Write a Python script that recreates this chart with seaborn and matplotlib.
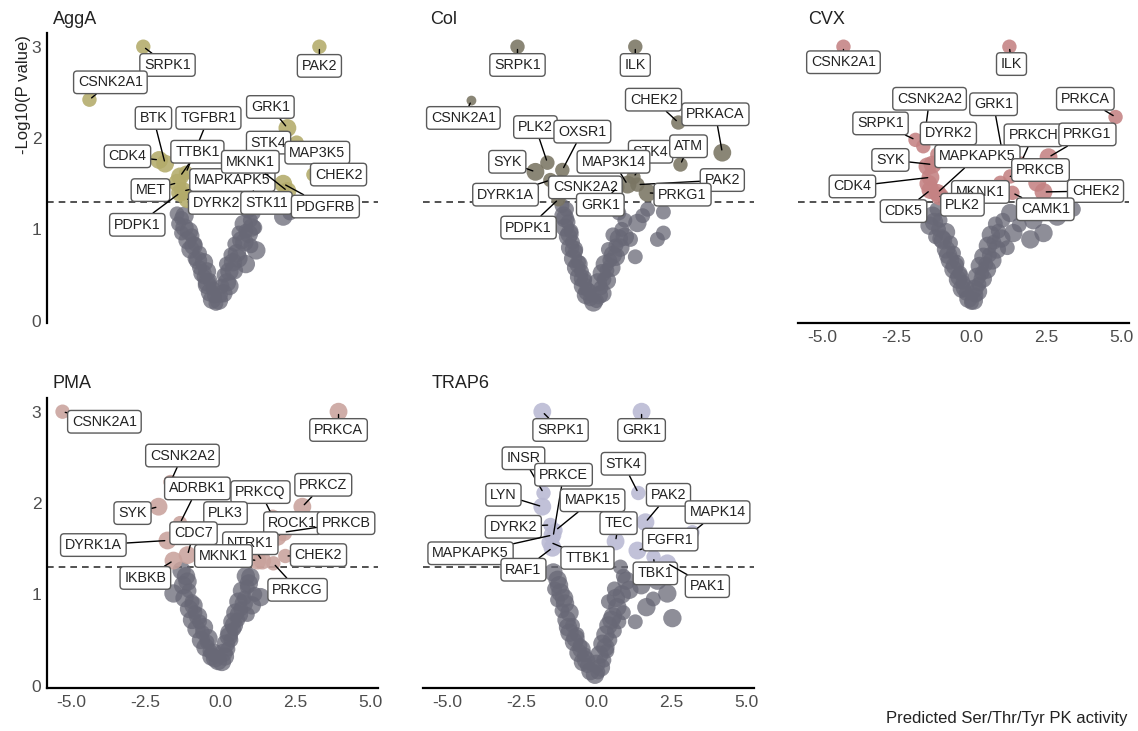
import numpy as np
import pandas as pd
import matplotlib
matplotlib.use("Agg")
import matplotlib.pyplot as plt
import seaborn as sns

sns.set_theme(style="white")
plt.rcParams["font.family"] = ["Liberation Sans", "DejaVu Sans"]

# ---------------- data ----------------
conditions = ["AggA", "Col", "CVX", "PMA", "TRAP6"]
sig_colors = {"AggA": "#b3ab6a", "Col": "#7a7563", "CVX": "#c48283",
              "PMA": "#c9a29c", "TRAP6": "#b9b9d3"}
ns_color = "#686876"
p_threshold = 0.05

# AggA
agga_names = ["SRPK1", "CSNK2A1", "PAK2", "GRK1", "STK4", "MAP3K5", "CHEK2", "BTK", "CDK4",
              "TGFBR1", "TTBK1", "MET", "MAPKAPK5", "PDPK1", "DYRK2", "MKNK1", "STK11", "PDGFRB"]
agga_x = [-2.58, -4.38, 3.31, 2.24, 2.55, 2.75, 3.11, -1.85, -2.05,
          -1.15, -1.35, -1.44, -1.25, -1.35, -1.10, 2.24, 1.10, 2.10]
agga_y = [3.00, 2.42, 3.00, 2.11, 1.95, 1.88, 1.60, 1.72, 1.76,
          1.62, 1.58, 1.51, 1.42, 1.40, 1.33, 1.42, 1.42, 1.50]
agga_size = [2, 2, 2, 3, 2, 2, 2, 3, 3, 2, 3, 3, 3, 3, 3, 3, 2, 3]
agga_label_x = [-1.77, -3.68, 3.31, 1.67, 1.61, 3.24, 3.95, -2.24, -3.11,
                -0.40, -0.77, -2.34, 0.40, -2.78, -0.13, 1.00, 1.54, 3.51]
agga_label_y = [2.80, 2.61, 2.79, 2.34, 1.95, 1.84, 1.60, 2.22, 1.80,
                2.22, 1.85, 1.43, 1.54, 1.05, 1.29, 1.74, 1.29, 1.25]
agga_ns_x = [-1.45, -1.30, -1.40, -1.20, -1.30, -0.95, -1.10, -0.85, -1.00, -0.70, -0.85, -0.55,
             -0.70, -0.45, -0.55, -0.35, -0.45, -0.25, -0.35, -0.20, -0.28, -0.15, -0.05, 0.00,
             0.10, 0.05, 0.22, 0.12, 0.30, 0.20, 0.42, 0.35, 0.55, 1.20, 0.48, 0.70, 0.62, 0.85,
             0.78, 1.00, 1.10, 0.92, 0.85, 1.02, 1.15, 2.10, 2.32,
             -1.20, -1.05, -0.90, -0.75, -0.60, -0.45, 0.30, 0.45, 0.60, 0.80, 0.95, 1.05]
agga_ns_y = [1.17, 1.12, 1.06, 1.02, 0.96, 0.93, 0.88, 0.84, 0.78, 0.74, 0.68, 0.64,
             0.58, 0.54, 0.48, 0.44, 0.39, 0.35, 0.31, 0.27, 0.23, 0.19, 0.22, 0.28,
             0.30, 0.38, 0.42, 0.50, 0.54, 0.62, 0.64, 0.72, 0.74, 0.77, 0.84, 0.88, 0.96, 0.98,
             1.06, 1.10, 1.18, 1.20, 0.62, 0.82, 1.02, 1.14, 1.18,
             1.15, 0.98, 0.82, 0.66, 0.52, 0.42, 0.38, 0.55, 0.68, 0.86, 0.95, 1.02]
agga_ns_size = [2, 2, 2, 3, 2, 2, 3, 2, 3, 2, 2, 3, 2, 3, 2, 2, 3, 2, 3, 2, 3, 2, 3, 2,
                3, 2, 3, 2, 3, 2, 3, 2, 3, 3, 2, 3, 2, 2, 3, 2, 2, 2, 3, 2, 2, 3, 2,
                3, 3, 3, 3, 3, 3, 3, 3, 3, 3, 3, 3]

# Col
col_names = ["SRPK1", "ILK", "CSNK2A1", "CHEK2", "PRKACA", "PLK2", "OXSR1", "SYK", "STK4",
             "ATM", "MAP3K14", "PAK2", "PRKG1", "DYRK1A", "CSNK2A2", "GRK1", "PDPK1"]
col_x = [-2.64, 1.30, -4.18, 2.74, 4.21, -1.64, -1.14, -2.04, 1.24,
         2.81, 1.04, 1.37, 1.71, -1.54, -1.20, 0.70, -1.27]
col_y = [3.00, 3.00, 2.41, 2.17, 1.84, 1.73, 1.65, 1.63, 1.57,
         1.71, 1.49, 1.49, 1.40, 1.54, 1.52, 1.46, 1.33]
col_size = [2, 2, 1, 2, 3, 2, 2, 3, 2, 2, 3, 2, 3, 2, 2, 2, 2]
col_label_x = [-2.64, 1.30, -4.45, 1.91, 3.98, -2.04, -0.47, -2.98, 1.81,
               3.08, 0.57, 4.21, 2.88, -3.04, -0.37, 0.13, -2.27]
col_label_y = [2.80, 2.80, 2.22, 2.42, 2.26, 2.12, 2.07, 1.74, 1.85,
               1.91, 1.74, 1.54, 1.38, 1.38, 1.46, 1.27, 1.02]
col_ns_x = [-1.15, -1.00, -1.10, -0.95, -1.05, -0.85, -0.95, -0.80, -0.88, -0.70, -0.78, -0.60,
            -0.68, -0.50, -0.58, -0.40, -0.45, -0.30, -0.35, -0.20, -0.10, 0.00,
            0.08, 0.15, 0.05, 0.25, 0.18, 0.35, 0.28, 0.45, 0.55, 0.40, 0.65, 0.75, 0.55, 0.85,
            0.95, 0.75, 0.70, 1.37, 1.14, 1.71, 1.55, 2.24, 2.24, 2.04, 1.30,
            -1.05, -0.90, -0.75, -0.60, -0.45, -0.30, 0.20, 0.35, 0.50, 0.65, 0.80, 0.95]
col_ns_y = [1.26, 1.22, 1.15, 1.08, 1.02, 0.98, 0.92, 0.86, 0.80, 0.76, 0.68, 0.64,
            0.58, 0.54, 0.48, 0.44, 0.38, 0.34, 0.28, 0.24, 0.20, 0.22,
            0.28, 0.36, 0.42, 0.45, 0.52, 0.55, 0.62, 0.66, 0.72, 0.78, 0.82, 0.90, 0.94, 1.00,
            1.10, 1.18, 1.28, 1.07, 0.89, 1.22, 1.15, 1.19, 0.96, 0.89, 0.70,
            1.12, 0.95, 0.78, 0.62, 0.46, 0.32, 0.30, 0.44, 0.58, 0.70, 0.80, 0.92]
col_ns_size = [2, 2, 3, 2, 3, 2, 3, 2, 3, 2, 3, 2, 3, 2, 3, 2, 3, 2, 3, 2, 3, 2,
               3, 2, 3, 2, 3, 2, 3, 2, 3, 2, 2, 3, 2, 2, 2, 2, 2, 3, 2, 2, 2, 2, 2, 2, 2,
               3, 3, 3, 3, 3, 3, 3, 3, 3, 3, 3, 3]

# CVX
cvx_names = ["CSNK2A1", "ILK", "PRKCA", "CSNK2A2", "SRPK1", "DYRK2", "GRK1", "PRKCH", "PRKG1",
             "SYK", "MAPKAPK5", "PRKCB", "CDK4", "MKNK1", "CHEK2", "CAMK1", "CDK5", "PLK2",
             "", "", ""]
cvx_x = [-4.28, 1.27, 4.82, -1.61, -1.87, -1.14, 1.07, 1.64, 2.58,
         -1.30, -1.14, 1.30, -1.37, 0.97, 2.41, 1.37, -1.37, -1.05,
         -1.47, -1.44, 2.20]
cvx_y = [3.00, 3.00, 2.23, 1.91, 1.98, 1.82, 1.78, 1.72, 1.79,
         1.71, 1.40, 1.58, 1.57, 1.51, 1.41, 1.40, 1.43, 1.36,
         1.69, 1.50, 1.51]
cvx_size = [2, 2, 2, 2, 2, 2, 2, 2, 3, 3, 3, 2, 3, 2, 3, 2, 3, 3, 3, 3, 3]
cvx_label_x = [-4.28, 1.34, 3.81, -1.40, -3.04, -0.77, 0.74, 2.07, 3.88,
               -2.71, 0.20, 2.31, -3.98, 0.30, 4.15, 2.47, -2.27, -0.30,
               np.nan, np.nan, np.nan]
cvx_label_y = [2.83, 2.81, 2.43, 2.43, 2.16, 2.05, 2.37, 2.03, 2.04,
               1.76, 1.80, 1.65, 1.47, 1.41, 1.42, 1.22, 1.20, 1.27,
               np.nan, np.nan, np.nan]
cvx_ns_x = [-1.15, -1.30, -1.05, -1.40, -1.10, -0.85, -1.20, -0.95, -0.70, -0.85, -0.60,
            -0.72, -0.48, -0.60, -0.38, -0.45, -0.28, -0.32, -0.18, -0.10, 0.00, 0.08,
            0.15, 0.10, 0.25, 0.18, 0.35, 0.28, 0.48, 0.40, 0.60, 0.55, 0.75, 0.65, 0.90,
            0.80, 1.05, 1.30, 1.40, 1.20, 1.97, 2.41, 2.07, 2.87, 3.41, 1.60,
            -1.25, -1.00, -0.78, -0.55, -0.40, -0.22, 0.22, 0.38, 0.52, 0.70, 0.85, 1.00]
cvx_ns_y = [1.22, 1.15, 1.10, 1.04, 1.00, 0.97, 0.92, 0.88, 0.85, 0.78, 0.74,
            0.66, 0.64, 0.56, 0.52, 0.45, 0.42, 0.35, 0.30, 0.24, 0.20, 0.22,
            0.28, 0.35, 0.40, 0.48, 0.52, 0.60, 0.62, 0.70, 0.72, 0.82, 0.86, 0.94, 0.98,
            1.06, 1.10, 1.18, 0.96, 0.80, 0.89, 0.96, 1.10, 1.14, 1.22, 1.05,
            1.08, 0.90, 0.72, 0.60, 0.48, 0.36, 0.32, 0.46, 0.56, 0.66, 0.78, 0.90]
cvx_ns_size = [2, 3, 2, 3, 2, 3, 2, 3, 2, 3, 2, 3, 2, 3, 2, 3, 2, 3, 2, 3, 2, 3,
               2, 3, 2, 3, 2, 3, 2, 3, 2, 3, 2, 3, 2, 2, 2, 3, 3, 2, 3, 3, 3, 3, 2, 2,
               3, 3, 3, 3, 3, 3, 3, 3, 3, 3, 3, 3]

# PMA
pma_names = ["CSNK2A1", "PRKCA", "CSNK2A2", "ADRBK1", "PRKCQ", "PRKCZ", "SYK", "PLK3", "ROCK1",
             "PRKCB", "CDC7", "DYRK1A", "NTRK1", "MKNK1", "CHEK2", "IKBKB", "PRKCG"]
pma_x = [-5.28, 3.95, -1.67, -1.35, 1.75, 2.74, -2.07, -0.70, 1.91,
         2.11, -1.10, -1.77, 1.40, 1.24, 2.17, -1.57, 1.77]
pma_y = [3.00, 3.00, 2.23, 1.78, 1.85, 1.96, 1.96, 1.68, 1.63,
         1.68, 1.43, 1.59, 1.37, 1.37, 1.42, 1.37, 1.34]
pma_size = [2, 3, 2, 2, 2, 3, 3, 2, 3, 3, 3, 3, 3, 3, 2, 3, 2]
pma_label_x = [-3.88, 3.95, -1.27, -0.77, 1.34, 3.44, -2.94, 0.17, 2.41,
               4.20, -0.90, -4.25, 1.00, 0.10, 3.28, -2.51, 2.58]
pma_label_y = [2.89, 2.80, 2.52, 2.16, 2.12, 2.20, 1.89, 1.89, 1.78,
               1.78, 1.67, 1.54, 1.56, 1.42, 1.43, 1.18, 1.05]
pma_ns_x = [-1.30, -1.15, -1.57, -1.25, -1.05, -1.20, -0.95, -1.05, -0.85, -0.95, -0.70,
            -0.80, -0.60, -0.65, -0.45, -0.50, -0.35, -0.30, -0.18, -0.08, 0.05,
            0.15, 0.25, 0.18, 0.35, 0.30, 0.45, 0.40, 0.58, 0.50, 0.68, 0.60, 0.80, 0.72,
            0.90, 1.00, 0.85, 1.34, 1.15, 1.05, 0.90,
            -1.10, -0.90, -0.75, -0.55, -0.40, -0.22, 0.10, 0.28, 0.45, 0.62, 0.78, 0.95]
pma_ns_y = [1.26, 1.20, 1.01, 1.10, 1.04, 0.96, 0.92, 0.84, 0.80, 0.72, 0.70,
            0.62, 0.58, 0.50, 0.48, 0.42, 0.38, 0.32, 0.30, 0.27, 0.26,
            0.32, 0.40, 0.46, 0.50, 0.58, 0.62, 0.70, 0.72, 0.80, 0.84, 0.92, 0.96, 1.04,
            1.08, 1.19, 1.20, 0.97, 1.00, 0.88, 0.78,
            1.14, 0.88, 0.76, 0.64, 0.52, 0.36, 0.36, 0.54, 0.66, 0.78, 0.90, 1.12]
pma_ns_size = [3, 3, 3, 3, 2, 3, 2, 3, 2, 3, 2, 3, 2, 3, 2, 3, 2, 3, 3, 3, 3,
               3, 2, 3, 2, 3, 2, 3, 2, 3, 2, 3, 2, 3, 2, 3, 3, 3, 2, 3, 2,
               3, 3, 3, 3, 3, 3, 3, 3, 3, 3, 3, 3]

# TRAP6
trap6_names = ["SRPK1", "GRK1", "INSR", "PRKCE", "STK4", "LYN", "MAPK15", "PAK2", "MAPK14",
               "TEC", "DYRK2", "FGFR1", "MAPKAPK5", "TTBK1", "RAF1", "TBK1", "PAK1"]
trap6_x = [-1.81, 1.51, -1.77, -1.45, 1.40, -1.81, -1.37, 1.64, 3.21,
           0.64, -1.54, 1.37, -1.47, -1.54, -1.47, 1.91, 2.37]
trap6_y = [3.00, 3.00, 2.11, 1.63, 2.11, 1.96, 1.70, 1.79, 1.68,
           1.58, 1.76, 1.48, 1.65, 1.57, 1.51, 1.41, 1.34]
trap6_size = [3, 3, 2, 2, 2, 3, 2, 3, 2, 3, 2, 3, 3, 3, 3, 2, 3]
trap6_label_x = [-1.20, 1.51, -2.44, -1.10, 0.90, -3.11, -0.13, 2.41, 4.05,
                 0.74, -2.78, 2.47, -4.21, -0.30, -2.44, 1.97, 3.71]
trap6_label_y = [2.80, 2.80, 2.49, 2.31, 2.43, 2.09, 2.03, 2.09, 1.90,
                 1.78, 1.74, 1.60, 1.45, 1.40, 1.27, 1.23, 1.09]
trap6_ns_x = [-1.44, -1.30, -1.40, -1.20, -1.30, -1.05, -1.15, -0.90, -1.00, -0.80, -0.90,
              -0.65, -0.75, -0.55, -0.60, -0.40, -0.45, -0.30, -0.20, -0.05, 0.05,
              0.15, 0.25, 0.10, 0.35, 0.20, 0.45, 0.30, 0.60, 0.40, 0.75, 0.55, 0.90, 0.70,
              0.40, 0.85, 0.60, 0.80, 1.00, 1.67, 2.04, 2.37, 2.54, 1.30, 1.90, 0.90,
              -1.25, -1.08, -0.95, -0.70, -0.50, -0.35, 0.00, 0.30, 0.50, 0.65, 1.10, 1.50]
trap6_ns_y = [1.24, 1.16, 1.06, 1.02, 0.94, 0.90, 0.82, 0.80, 0.72, 0.66, 0.58,
              0.56, 0.48, 0.44, 0.36, 0.34, 0.26, 0.22, 0.16, 0.12, 0.15,
              0.20, 0.28, 0.34, 0.38, 0.46, 0.50, 0.56, 0.60, 0.66, 0.70, 0.76, 0.80, 0.86,
              0.92, 1.00, 1.06, 1.30, 1.15, 0.86, 1.15, 1.01, 0.74, 0.70, 0.95, 1.20,
              1.10, 0.96, 0.64, 0.52, 0.40, 0.28, 0.24, 0.42, 0.72, 0.96, 1.05, 1.10]
trap6_ns_size = [3, 3, 2, 3, 2, 3, 2, 3, 3, 2, 3, 2, 3, 2, 3, 2, 3, 2, 3, 3, 2,
                 3, 2, 3, 2, 3, 2, 3, 2, 3, 2, 3, 2, 3, 2, 3, 2, 2, 3, 3, 3, 3, 3, 2, 2, 2,
                 3, 3, 3, 3, 3, 3, 3, 3, 3, 3, 3, 3]

tick_values = [-5.0, -2.5, 0.0, 2.5, 5.0]
tick_labels = ["-5.0", "-2.5", "0.0", "2.5", "5.0"]
ytick_values = [0, 1, 2, 3]

panel_data = {
    "AggA": (agga_names, agga_x, agga_y, agga_size, agga_label_x, agga_label_y,
             agga_ns_x, agga_ns_y, agga_ns_size),
    "Col": (col_names, col_x, col_y, col_size, col_label_x, col_label_y,
            col_ns_x, col_ns_y, col_ns_size),
    "CVX": (cvx_names, cvx_x, cvx_y, cvx_size, cvx_label_x, cvx_label_y,
            cvx_ns_x, cvx_ns_y, cvx_ns_size),
    "PMA": (pma_names, pma_x, pma_y, pma_size, pma_label_x, pma_label_y,
            pma_ns_x, pma_ns_y, pma_ns_size),
    "TRAP6": (trap6_names, trap6_x, trap6_y, trap6_size, trap6_label_x, trap6_label_y,
              trap6_ns_x, trap6_ns_y, trap6_ns_size),
}

# ---------------- layout ----------------
W, H = 1138, 731
fig = plt.figure(figsize=(W / 100, H / 100), dpi=100)

col_left = [47, 423, 798]
row_top = [33, 398]
row_bottom = [323, 688]
ax_w = 331
grid = {"AggA": (0, 0), "Col": (0, 1), "CVX": (0, 2), "PMA": (1, 0), "TRAP6": (1, 1)}
title_pos = {"AggA": (53, 20), "Col": (430, 20), "CVX": (808, 20),
             "PMA": (53, 384), "TRAP6": (432, 384)}
show_x = {"AggA": False, "Col": False, "CVX": True, "PMA": True, "TRAP6": True}
show_y = {"AggA": True, "Col": False, "CVX": False, "PMA": True, "TRAP6": False}

tick_color = "#4d4d4d"

for cond in conditions:
    names, xs, ys, ss, lxs, lys, nx, ny, nsz = panel_data[cond]
    r, c = grid[cond]
    left = col_left[c] / W
    bottom = 1 - row_bottom[r] / H
    height = (row_bottom[r] - row_top[r]) / H
    ax = fig.add_axes([left, bottom, ax_w / W, height])

    ns_df = pd.DataFrame({"x": nx, "y": ny, "n": nsz})
    sig_df = pd.DataFrame({"kinase": names, "x": xs, "y": ys, "n": ss})

    sns.scatterplot(data=ns_df, x="x", y="y", size="n", sizes=(55, 175), size_norm=(1, 3),
                    color=ns_color, alpha=0.75, edgecolor="none", legend=False, ax=ax, zorder=2)
    sns.scatterplot(data=sig_df, x="x", y="y", size="n", sizes=(50, 165), size_norm=(1, 3),
                    color=sig_colors[cond], alpha=0.88, edgecolor="none", legend=False, ax=ax,
                    zorder=3)

    ax.axhline(-np.log10(p_threshold), ls=(0, (4, 3)), color="#333333", lw=1.2, zorder=1)

    for nm, px, py, lx, ly in zip(names, xs, ys, lxs, lys):
        if not nm or np.isnan(lx):
            continue
        ax.annotate(nm, xy=(px, py), xytext=(lx, ly), textcoords="data",
                    ha="center", va="center", fontsize=10.3, color="#222222",
                    bbox=dict(boxstyle="round,pad=0.3,rounding_size=0.25", fc="white",
                              ec="#5a5a5a", lw=1.0),
                    arrowprops=dict(arrowstyle="-", color="black", lw=1.0,
                                    shrinkA=0, shrinkB=2),
                    zorder=5, annotation_clip=False)

    ax.set_xlim(-5.8, 5.27)
    ax.set_ylim(-0.025, 3.15)
    ax.set_xlabel("")
    ax.set_ylabel("")
    ax.set_xticks(tick_values)
    ax.set_yticks(ytick_values)
    ax.tick_params(length=0, labelsize=12.5, labelcolor=tick_color)
    ax.tick_params(axis="x", pad=5)
    ax.tick_params(axis="y", pad=4)
    if show_x[cond]:
        ax.set_xticklabels(tick_labels)
    else:
        ax.set_xticklabels([])
    if not show_y[cond]:
        ax.set_yticklabels([])
    for side in ["top", "right", "left", "bottom"]:
        ax.spines[side].set_visible(False)
    if show_y[cond]:
        ax.spines["left"].set_visible(True)
        ax.spines["left"].set_color("black")
        ax.spines["left"].set_linewidth(1.6)
    if show_x[cond]:
        ax.spines["bottom"].set_visible(True)
        ax.spines["bottom"].set_color("black")
        ax.spines["bottom"].set_linewidth(1.6)
    ax.grid(False)
    ax.set_facecolor("white")

    tx, ty = title_pos[cond]
    fig.text(tx / W, 1 - ty / H, cond, ha="left", va="center", fontsize=13, color="#222222")

fig.text(24 / W, 1 - 95 / H, "-Log10(P value)", rotation=90, ha="center", va="center",
         fontsize=12, color="#222222")
fig.text(1128 / W, 1 - 719 / H, "Predicted Ser/Thr/Tyr PK activity", ha="right", va="center",
         fontsize=12, color="#222222")

fig.savefig("out.png", dpi=100, facecolor="white")
